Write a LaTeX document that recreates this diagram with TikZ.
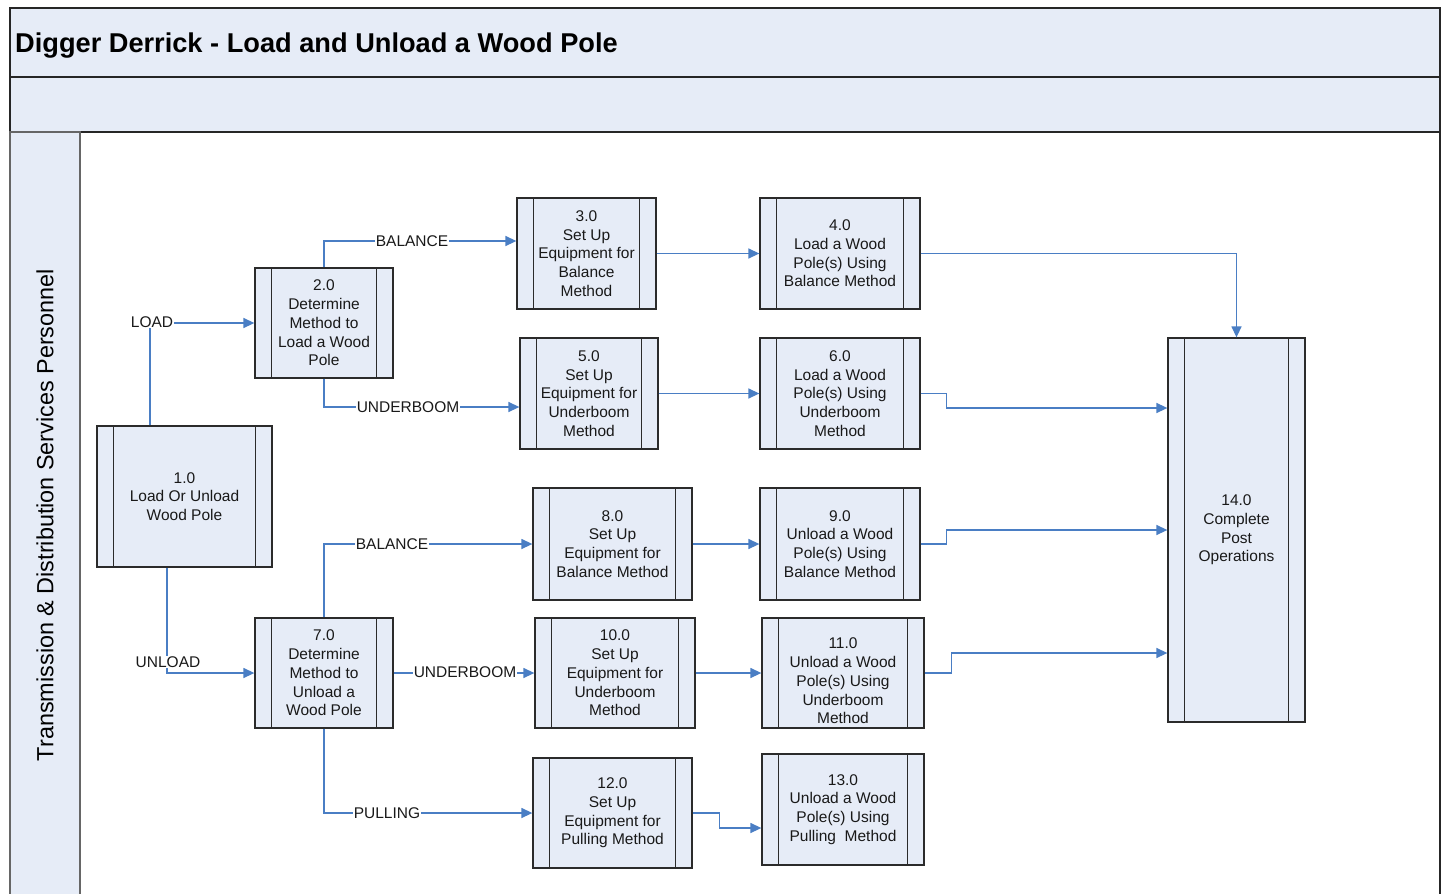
\documentclass[tikz,border=0pt]{standalone}
\usepackage{fontspec}
\setmainfont{Liberation Sans}
\usetikzlibrary{arrows.meta}
\definecolor{pfill}{HTML}{E6ECF7}
\definecolor{connc}{HTML}{4A7EC4}
\definecolor{pline}{HTML}{2B2B2B}
\newcommand{\procbox}[7]{%
  \node[proc, minimum width={#4-#2}, minimum height={#5-#3}] (#1) at ({(#2+#4)/2},{(#3+#5)/2}) {};
  \draw[procline] ([xshift=17pt]#1.north west) -- ([xshift=17pt]#1.south west);
  \draw[procline] ([xshift=-17pt]#1.north east) -- ([xshift=-17pt]#1.south east);
  \node[ptext, yshift=#6] (#1-t) at (#1.center) {#7};
}
\begin{document}
\begin{tikzpicture}[x=1pt,y=-1pt,
  proc/.style={draw=pline, fill=pfill, line width=1.3pt, rectangle, inner sep=0pt},
  procline/.style={draw=pline, line width=1.2pt},
  ptext/.style={align=center, font=\fontsize{15.5pt}{18.7pt}\selectfont, inner sep=0pt, text=black!90},
  conn/.style={draw=connc, line width=1.4pt, -{Triangle[length=11pt,width=10pt]}},
  lbl/.style={fill=white, font=\fontsize{15.5pt}{18.7pt}\selectfont, inner sep=1pt, text=black!90},
  band/.style={draw=black!85, fill=pfill, line width=1.3pt}]
\clip (0,0) rectangle (1443,894);
\fill[white] (0,0) rectangle (1443,894);
% frame
\draw[band] (10,8) rectangle (1440,77);
\draw[band] (10,77) rectangle (1440,132);
\draw[draw=black!85, fill=white, line width=1.3pt] (10,132) rectangle (1440,905);
\draw[draw=black!60, fill=pfill, line width=1.3pt] (10,132) rectangle (80,905);
\node[anchor=base west, inner sep=0pt, font=\fontsize{27.2pt}{31pt}\selectfont\bfseries] (title) at (15,52) {Digger Derrick - Load and Unload a Wood Pole};
\node[rotate=90, font=\fontsize{23.4pt}{27pt}\selectfont] (lane) at (45,515) {Transmission \& Distribution Services Personnel};
% processes
\procbox{n1}{97}{426}{272}{567}{0pt}{1.0\\Load Or Unload\\Wood Pole}
\procbox{n2}{255}{268}{393}{378}{0pt}{2.0\\Determine\\Method to\\Load a Wood\\Pole}
\procbox{n3}{517}{198}{656}{309}{0pt}{3.0\\Set Up\\Equipment for\\Balance\\Method}
\procbox{n4}{760}{198}{920}{309}{0pt}{4.0\\Load a Wood\\Pole(s) Using\\Balance Method}
\procbox{n5}{520}{338}{658}{449}{0pt}{5.0\\Set Up\\Equipment for\\Underboom\\Method}
\procbox{n6}{760}{338}{920}{449}{0pt}{6.0\\Load a Wood\\Pole(s) Using\\Underboom\\Method}
\procbox{n8}{533}{488}{692}{600}{0pt}{8.0\\Set Up\\Equipment for\\Balance Method}
\procbox{n9}{760}{488}{920}{600}{0pt}{9.0\\Unload a Wood\\Pole(s) Using\\Balance Method}
\procbox{n7}{255}{618}{393}{728}{0pt}{7.0\\Determine\\Method to\\Unload a\\Wood Pole}
\procbox{n10}{535}{618}{695}{728}{0pt}{10.0\\Set Up\\Equipment for\\Underboom\\Method}
\procbox{n11}{762}{618}{924}{728}{-8pt}{11.0\\Unload a Wood\\Pole(s) Using\\Underboom\\Method}
\procbox{n12}{533}{758}{692}{868}{0pt}{12.0\\Set Up\\Equipment for\\Pulling Method}
\procbox{n13}{762}{754}{924}{865}{0pt}{13.0\\Unload a Wood\\Pole(s) Using\\Pulling~ Method}
\procbox{n14}{1168}{338}{1305}{722}{0pt}{14.0\\Complete\\Post\\Operations}
% connectors
\draw[conn] ([xshift=-34.5pt]n1.north) |- (n2.west);
\draw[conn] ([xshift=-17.5pt]n1.south) |- (n7.west);
\draw[conn] (n2.north) |- ([yshift=12.5pt]n3.west);
\draw[conn] (n2.south) |- ([yshift=-13.5pt]n5.west);
\draw[conn] (n3.east) -- (n4.west);
\draw[conn] (n5.east) -- (n6.west);
\draw[conn] (n4.east) -| (n14.north);
\draw[conn] (n6.east) -- ++(26,0) |- ([yshift=122pt]n14.west);
\draw[conn] (n7.north) |- (n8.west);
\draw[conn] (n7.east) -- (n10.west);
\draw[conn] (n7.south) |- (n12.west);
\draw[conn] (n8.east) -- (n9.west);
\draw[conn] (n10.east) -- (n11.west);
\draw[conn] (n12.east) -- ++(27,0) |- ([yshift=-18.5pt]n13.west);
\draw[conn] (n9.east) -- ++(26,0) |- (n14.west);
\draw[conn] (n11.east) -- ++(27,0) |- ([yshift=-123pt]n14.west);
% labels
\node[lbl] (lload) at (152,322) {LOAD};
\node[lbl] (lunload) at (168,662) {UNLOAD};
\node[lbl] (lbal1) at (412,241) {BALANCE};
\node[lbl] (lub1) at (408,407) {UNDERBOOM};
\node[lbl] (lbal2) at (392,544) {BALANCE};
\node[lbl] (lub2) at (465,672) {UNDERBOOM};
\node[lbl] (lpull) at (387,813) {PULLING};
\end{tikzpicture}
\end{document}
